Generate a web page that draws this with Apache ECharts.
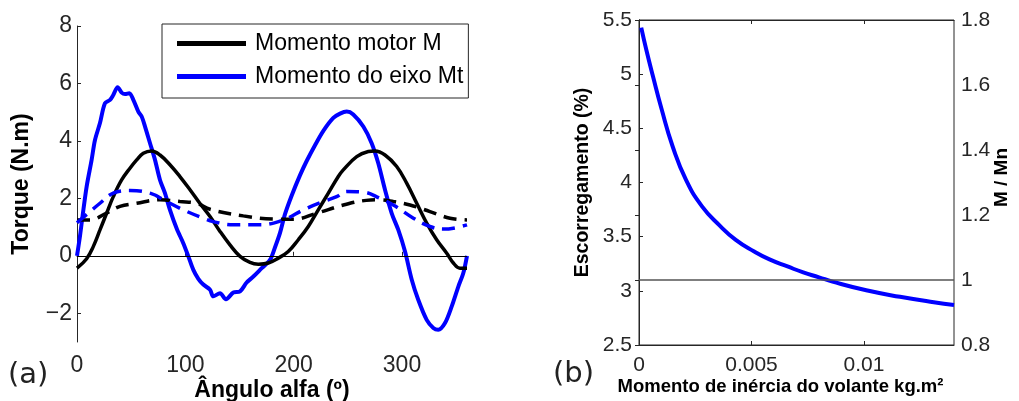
<!DOCTYPE html>
<html>
<head>
<meta charset="utf-8">
<script src="https://cdn.jsdelivr.net/npm/echarts@6/dist/echarts.min.js"></script>
<style>
  html, body { margin: 0; padding: 0; background: #fff; }
  #chart { width: 1019px; height: 401px; }
</style>
</head>
<body>
<div id="chart"></div>
<script>
// (a) torque over one turn
const angleM = [0, 8.9, 15, 21.2, 27.4, 33.5, 41.2, 48.9, 55.1, 61.2, 68.9, 76.6, 85.8, 95, 104.3, 113.5, 122.8, 132, 141.2, 150.5, 159.7, 167.4, 176.6, 185.8, 195, 204.3, 213.5, 222.7, 232, 241.2, 245.8, 258.2, 268.9, 275.1, 284.3, 295.1, 304.3, 313.6, 322.8, 332, 341.3, 347.4, 353.5, 360];
const torqueM = [-0.43, -0.1, 0.32, 0.9, 1.49, 2.06, 2.64, 3.05, 3.34, 3.57, 3.65, 3.51, 3.17, 2.76, 2.3, 1.82, 1.37, 0.85, 0.38, -0.02, -0.23, -0.29, -0.25, -0.08, 0.15, 0.56, 1.02, 1.6, 2.18, 2.76, 2.99, 3.45, 3.63, 3.65, 3.51, 3.11, 2.53, 1.83, 1.14, 0.56, 0.09, -0.25, -0.43, -0.43];

const angleMt = [0, 2.8, 5.2, 8.9, 13.5, 16.6, 21.2, 25.8, 30.5, 33.5, 37.5, 41.2, 44.3, 48.3, 52, 56.6, 59.7, 62.8, 67.4, 72, 76.6, 81.2, 85.8, 92, 98.1, 102.8, 107.4, 112, 116.6, 122.8, 125.8, 132, 137.5, 144.3, 150.5, 156.6, 162.8, 170.5, 178.2, 182.8, 187.4, 192, 198.2, 205.8, 212, 219.7, 227.4, 236.6, 242.8, 249, 255, 264.3, 272, 278.1, 284.3, 290.5, 296.6, 302.8, 309, 315, 322.8, 328.9, 333.5, 339.7, 345.9, 352, 356.6, 360];
const torqueMt = [0, 0.7, 1.4, 2.41, 3.34, 4.03, 4.62, 5.31, 5.43, 5.6, 5.87, 5.68, 5.63, 5.66, 5.43, 5.02, 4.85, 4.5, 3.92, 3.34, 2.64, 2.18, 1.6, 0.95, 0.44, -0.02, -0.49, -0.8, -1.0, -1.18, -1.41, -1.3, -1.51, -1.28, -1.24, -0.93, -0.72, -0.43, -0.14, 0.3, 0.8, 1.45, 2.1, 2.8, 3.3, 3.85, 4.35, 4.8, 4.95, 5.02, 4.92, 4.5, 3.92, 3.22, 2.3, 1.48, 0.9, 0.15, -0.83, -1.53, -2.23, -2.51, -2.57, -2.34, -1.76, -1.07, -0.6, 0];

const angleMMean = [0, 12, 27.4, 39.7, 55.1, 76.6, 95, 110.5, 122.8, 153.5, 181.2, 200, 221, 246, 267, 280, 292, 307.4, 325.8, 344.3, 360];
const torqueMMean = [1.25, 1.25, 1.49, 1.72, 1.83, 1.95, 1.89, 1.83, 1.62, 1.39, 1.28, 1.27, 1.48, 1.77, 1.93, 1.95, 1.89, 1.77, 1.54, 1.31, 1.25];

const angleMtMean = [0, 21.2, 33.5, 48.9, 67.4, 82.8, 98.1, 116.6, 125.8, 144.3, 169, 190.5, 209, 227.4, 239.7, 249, 264.3, 279.7, 292, 310.5, 325.8, 338.1, 350, 360];
const torqueMtMean = [1.15, 1.83, 2.18, 2.27, 2.18, 1.89, 1.6, 1.31, 1.19, 1.08, 1.08, 1.25, 1.6, 1.89, 2.06, 2.24, 2.22, 2.0, 1.77, 1.31, 1.02, 0.93, 0.98, 1.08];

const torqueTicks = [-2, 0, 2, 4, 6, 8];

// (b) slip against flywheel inertia
const inertia = [0.0001, 0.00033, 0.00062, 0.001, 0.0015, 0.0021, 0.0028, 0.0036, 0.0043, 0.0051, 0.0058, 0.0066, 0.0073, 0.008, 0.0086, 0.0101, 0.0116, 0.0131, 0.014];
const slip = [5.43, 5.22, 4.98, 4.68, 4.33, 4.02, 3.78, 3.6, 3.47, 3.365, 3.29, 3.225, 3.17, 3.125, 3.085, 3.005, 2.945, 2.895, 2.87];
const inertiaTicks = [0, 0.005, 0.01];
const ratioLevel = 1;

const FONT = '"Liberation Sans", Arial, sans-serif';
const AX = '#262626';

function zip(xs, ys) {
  return xs.map((x, i) => [x, ys[i]]);
}

function minus(v) {
  return v < 0 ? '\u2212' + Math.abs(v) : String(v);
}

const chart = echarts.init(document.getElementById('chart'));

chart.setOption({
  animation: false,
  backgroundColor: '#fff',
  textStyle: {fontFamily: FONT},
  grid: [
    {left: 77, top: 26, width: 390, height: 316, outerBoundsMode: 'none'},
    {left: 639, top: 20, width: 315, height: 325, show: true, borderColor: AX, borderWidth: 1, outerBoundsMode: 'none'}
  ],
  legend: {
    data: [
      {name: 'Momento motor M', icon: 'rect'},
      {name: 'Momento do eixo Mt', icon: 'rect'}
    ],
    left: 162, top: 24,
    orient: 'vertical',
    itemWidth: 69, itemHeight: 5, itemGap: 10,
    padding: [8, 5, 10, 15],
    borderColor: AX, borderWidth: 1,
    backgroundColor: '#fff',
    textStyle: {fontSize: 23, color: '#000', fontFamily: FONT, padding: [0, 0, 0, 4]}
  },
  graphic: [
    {type: 'text', left: 8, top: 361, style: {text: '(a)', fontSize: 29, fontFamily: 'DejaVu Sans', fill: '#222'}},
    {type: 'text', left: 553, top: 360, style: {text: '(b)', fontSize: 29, fontFamily: 'DejaVu Sans', fill: '#222'}}
  ],
  xAxis: [
    {
      gridIndex: 0, type: 'value', min: 0, max: 360, interval: 100,
      name: 'Ângulo alfa (º)', nameLocation: 'middle', nameGap: 37, nameMoveOverlap: false,
      nameTextStyle: {fontSize: 23, fontWeight: 'bold', color: '#000', fontFamily: FONT},
      axisLine: {lineStyle: {color: AX, width: 1}},
      axisTick: {inside: true, length: 4, lineStyle: {color: AX}},
      axisLabel: {fontSize: 23, color: AX, margin: 12, fontFamily: FONT, showMaxLabel: false},
      splitLine: {show: false}
    },
    {
      gridIndex: 1, type: 'value', min: 0, max: 0.014,
      name: 'Momento de inércia do volante kg.m²', nameLocation: 'middle', nameGap: 32, nameMoveOverlap: false,
      nameTextStyle: {fontSize: 18.5, fontWeight: 'bold', color: '#000', fontFamily: FONT, padding: [0, 32, 0, 0]},
      axisLine: {lineStyle: {color: AX, width: 1}},
      axisTick: {inside: true, length: 4, lineStyle: {color: AX}, customValues: inertiaTicks},
      axisLabel: {fontSize: 21, color: AX, margin: 10, fontFamily: FONT, customValues: inertiaTicks},
      splitLine: {show: false}
    },
    {
      gridIndex: 1, type: 'value', min: 0, max: 0.014, position: 'top',
      axisLine: {lineStyle: {color: AX, width: 1}},
      axisTick: {inside: true, length: 4, lineStyle: {color: AX}, customValues: inertiaTicks},
      axisLabel: {show: false},
      splitLine: {show: false}
    }
  ],
  yAxis: [
    {
      gridIndex: 0, type: 'value', min: -3, max: 8,
      name: 'Torque (N.m)', nameLocation: 'middle', nameGap: 44, nameMoveOverlap: false,
      nameTextStyle: {fontSize: 23, fontWeight: 'bold', color: '#000', fontFamily: FONT},
      axisLine: {show: true, lineStyle: {color: AX, width: 1}},
      axisTick: {show: true, inside: true, length: 4, lineStyle: {color: AX}, customValues: torqueTicks},
      axisLabel: {fontSize: 23, color: AX, margin: 5, fontFamily: FONT, customValues: torqueTicks, formatter: minus},
      splitLine: {show: false}
    },
    {
      gridIndex: 1, type: 'value', min: 2.5, max: 5.5, interval: 0.5,
      name: 'Escorregamento (%)', nameLocation: 'middle', nameGap: 46, nameMoveOverlap: false,
      nameTextStyle: {fontSize: 19.5, fontWeight: 'bold', color: '#000', fontFamily: FONT},
      axisLine: {show: true, lineStyle: {color: AX, width: 1}},
      axisTick: {show: true, inside: true, length: 4, lineStyle: {color: AX}},
      axisLabel: {fontSize: 21, color: AX, margin: 7, fontFamily: FONT},
      splitLine: {show: false}
    },
    {
      gridIndex: 1, type: 'value', min: 0.8, max: 1.8, interval: 0.2, position: 'right',
      name: 'M / Mn', nameLocation: 'middle', nameGap: 38, nameMoveOverlap: false,
      nameTextStyle: {fontSize: 19, fontWeight: 'bold', color: '#000', fontFamily: FONT, padding: [0, 0, 0, 10]},
      axisLine: {show: true, lineStyle: {color: AX, width: 1}},
      axisTick: {show: true, inside: true, length: 4, lineStyle: {color: AX}},
      axisLabel: {fontSize: 21, color: AX, margin: 7, fontFamily: FONT,
        formatter: v => String(Math.round(v * 10) / 10)},
      splitLine: {show: false}
    }
  ],
  series: [
    {
      name: 'Momento motor M', type: 'line', xAxisIndex: 0, yAxisIndex: 0,
      data: zip(angleM, torqueM), symbol: 'none', smooth: 0.4, z: 4,
      lineStyle: {color: '#000', width: 3.5}, itemStyle: {color: '#000'},
      markLine: {
        silent: true, symbol: 'none', label: {show: false},
        lineStyle: {color: '#000', width: 1, type: 'solid'},
        data: [{yAxis: 0}]
      }
    },
    {
      name: 'Momento do eixo Mt', type: 'line', xAxisIndex: 0, yAxisIndex: 0,
      data: zip(angleMt, torqueMt), symbol: 'none', smooth: 0.3, z: 3,
      lineStyle: {color: '#0000ff', width: 4}, itemStyle: {color: '#0000ff'}
    },
    {
      name: 'M médio', type: 'line', xAxisIndex: 0, yAxisIndex: 0,
      data: zip(angleMMean, torqueMMean), symbol: 'none', smooth: 0.4, z: 5,
      lineStyle: {color: '#000', width: 3.5, type: [13, 8]}
    },
    {
      name: 'Mt médio', type: 'line', xAxisIndex: 0, yAxisIndex: 0,
      data: zip(angleMtMean, torqueMtMean), symbol: 'none', smooth: 0.4, z: 5,
      lineStyle: {color: '#0000ff', width: 3.5, type: [13, 8]}
    },
    {
      name: 'Escorregamento', type: 'line', xAxisIndex: 1, yAxisIndex: 1,
      data: zip(inertia, slip), symbol: 'none', smooth: 0.5, z: 4,
      lineStyle: {color: '#0000ff', width: 4}
    },
    {
      name: 'M / Mn', type: 'line', xAxisIndex: 1, yAxisIndex: 2,
      data: [], symbol: 'none',
      markLine: {
        silent: true, symbol: 'none', label: {show: false},
        lineStyle: {color: '#555', width: 1.5, type: 'solid'},
        data: [{yAxis: ratioLevel}]
      }
    }
  ]
});
</script>
</body>
</html>
